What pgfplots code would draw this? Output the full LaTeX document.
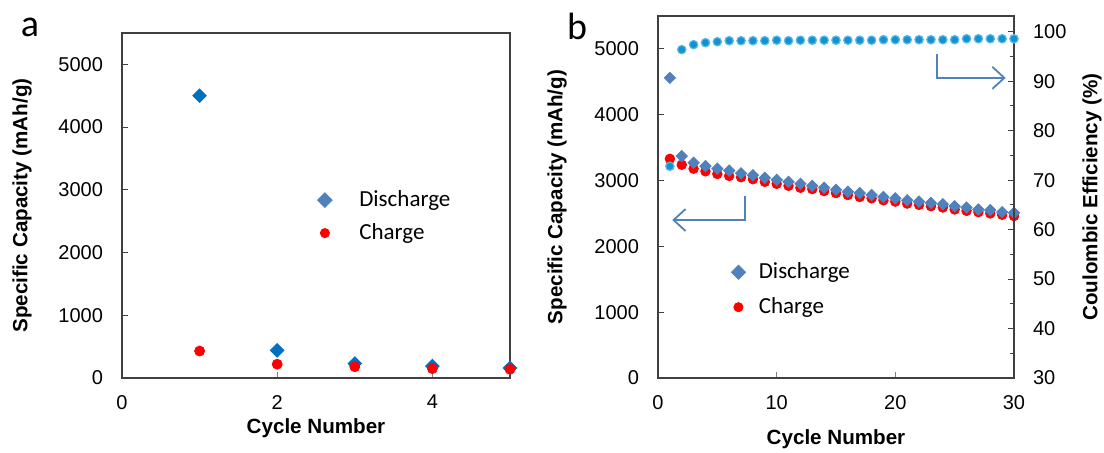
\documentclass[border=0pt]{standalone}
\usepackage{fontspec}
\setmainfont{Liberation Sans}
\newfontfamily\calfont{Carlito}
\usepackage{pgfplots}
\usepackage{pgfplotstable}
\pgfplotsset{compat=1.18}
\usetikzlibrary{arrows.meta}

\definecolor{dis}{HTML}{4F81BD}
\definecolor{disA}{HTML}{0070C0}
\definecolor{chg}{HTML}{FF0000}
\definecolor{ce}{HTML}{1192D2}
\definecolor{cehalo}{HTML}{5DB8E6}
\definecolor{axisgray}{HTML}{404040}

% panel b data: cycle, discharge, charge, coulombic efficiency
\pgfplotstableread{
cyc dis  chg  ce
1   4560 3330 72.8
2   3370 3240 96.4
3   3270 3180 97.4
4   3220 3140 97.8
5   3180 3100 98.0
6   3150 3070 98.2
7   3110 3050 98.2
8   3080 3020 98.2
9   3040 2980 98.2
10  3010 2950 98.3
11  2980 2920 98.2
12  2950 2890 98.3
13  2920 2870 98.3
14  2890 2840 98.3
15  2860 2810 98.3
16  2830 2780 98.3
17  2810 2750 98.3
18  2780 2730 98.3
19  2750 2700 98.4
20  2730 2680 98.4
21  2700 2650 98.4
22  2680 2630 98.4
23  2660 2610 98.4
24  2640 2590 98.4
25  2610 2560 98.4
26  2590 2540 98.6
27  2560 2520 98.6
28  2550 2500 98.6
29  2520 2480 98.6
30  2510 2460 98.6
}\cycdata

\pgfplotsset{
  common/.style={
    scale only axis,
    clip=false,
    axis line style={axisgray, line width=0.8pt},
    tick style={axisgray, line width=0.5pt},
    major tick length=3pt,
    minor tick length=2pt,
    tick align=inside,
    ticklabel style={font=\fontsize{10}{12}\selectfont},
    label style={font=\bfseries\fontsize{10.3}{12}\selectfont},
    /pgf/number format/assume math mode=true,
    /pgf/number format/set thousands separator={},
    legend cell align=left,
    legend style={draw=none, fill=none, inner sep=0pt,
      font=\calfont\fontsize{11.5}{13}\selectfont,
      nodes={inner sep=1pt}},
  },
  diam/.style={only marks, mark=square*, mark options={rotate=45}},
}

\begin{document}
\begin{tikzpicture}
\useasboundingbox (0,0) rectangle (552pt,-226.5pt);

% ---------- panel a ----------
\begin{axis}[common,
  at={(61pt,-189pt)}, anchor=south west,
  width=194pt, height=172.5pt,
  xmin=0, xmax=5, ymin=0, ymax=5500,
  xtick={0,2,4}, ytick={0,1000,...,5000},
  xtick pos=bottom, ytick pos=left,
  xtick style={gray},
  yticklabel style={xshift=-6pt},
  xticklabel style={yshift=-5pt},
  xlabel=Cycle Number,
  ylabel=Specific Capacity (mAh/g),
  x label style={at={(axis description cs:0.5,0)}, anchor=center, yshift=-25pt},
  y label style={at={([xshift=-50pt]axis description cs:0,0.5)}, anchor=center},
  legend image code/.code={\path (-6pt,0pt) (16pt,0pt); \draw[#1] plot coordinates {(0pt,0pt)};},
  legend style={at={(0.49,0.55)}, anchor=north west, row sep=5pt},
]
\addplot[diam, color=disA, mark size=2.4pt, forget plot] coordinates {
  (1,4500) (2,440) (3,230) (4,190) (5,160)
};
\addplot[only marks, mark=*, color=chg, mark size=2.5pt, forget plot] coordinates {
  (1,430) (2,220) (3,180) (4,150) (5,140)
};
\addlegendimage{diam, color=dis, mark size=2.6pt}
\addlegendentry{Discharge}
\addlegendimage{only marks, mark=*, color=chg, mark size=2.3pt}
\addlegendentry{Charge}
\end{axis}

% ---------- panel b, capacity ----------
\begin{axis}[common,
  at={(329pt,-189pt)}, anchor=south west,
  width=178pt, height=181pt,
  xmin=0, xmax=30, ymin=0, ymax=5500,
  xtick={0,10,20,30}, ytick={0,1000,...,5000},
  xtick pos=bottom, ytick pos=left,
  xtick style={gray},
  yticklabel style={xshift=-6pt},
  xticklabel style={yshift=-5pt},
  xlabel=Cycle Number,
  ylabel=Specific Capacity (mAh/g),
  x label style={at={(axis description cs:0.5,0)}, anchor=center, yshift=-30.5pt},
  y label style={at={([xshift=-50.5pt]axis description cs:0,0.5)}, anchor=center},
  legend image code/.code={\path (-6pt,0pt) (9pt,0pt); \draw[#1] plot coordinates {(0pt,0pt)};},
  legend style={at={(0.19,0.325)}, anchor=north west, row sep=6pt},
]
\addplot[only marks, mark=*, color=chg, mark size=2.4pt, forget plot] table[x=cyc, y=chg] {\cycdata};
\addplot[diam, color=dis, mark size=2pt, forget plot] table[x=cyc, y=dis] {\cycdata};
\addlegendimage{diam, color=dis, mark size=2.5pt}
\addlegendentry{Discharge}
\addlegendimage{only marks, mark=*, color=chg, mark size=2.3pt}
\addlegendentry{Charge}
\draw[dis, line width=0.9pt, -{Straight Barb[length=6pt,width=11pt]}]
  (axis cs:7.3,2760) -- (axis cs:7.3,2400) -- (axis cs:1.2,2400);
\draw[dis, line width=0.9pt, -{Straight Barb[length=6pt,width=11pt]}]
  (axis cs:23.5,4920) -- (axis cs:23.5,4560) -- (axis cs:29.3,4560);
\end{axis}

% ---------- panel b, coulombic efficiency ----------
\begin{axis}[common,
  at={(329pt,-189pt)}, anchor=south west,
  width=178pt, height=181pt,
  xmin=0, xmax=30, ymin=30, ymax=103.2,
  axis x line=none, axis y line*=right,
  ytick={30,40,...,100}, minor y tick num=1,
  yticklabel style={xshift=6pt},
  ylabel=Coulombic Efficiency (\%),
  y label style={at={([xshift=39pt]axis description cs:1,0.5)}, anchor=center, rotate=0},
]
\addplot[only marks, mark=*, mark size=2.1pt,
  mark options={fill=ce, draw=cehalo, line width=0.6pt}] table[x=cyc, y=ce] {\cycdata};
\end{axis}

\node[font=\calfont\fontsize{19}{22}\selectfont] at (15pt,-13.5pt) {a};
\node[font=\calfont\fontsize{19}{22}\selectfont] at (288.5pt,-13pt) {b};
\end{tikzpicture}
\end{document}
